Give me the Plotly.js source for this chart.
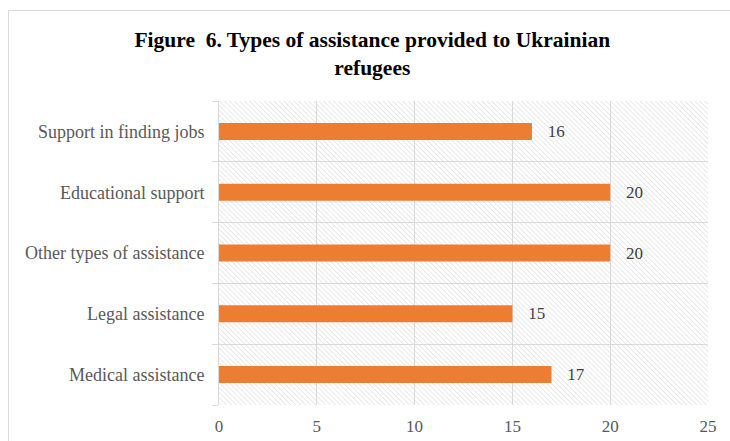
<!DOCTYPE html>
<html>
<head>
<meta charset="utf-8">
<script src="https://cdn.plot.ly/plotly-3.0.1.min.js"></script>
<style>
  html, body { margin: 0; padding: 0; background: #fff; }
  #wrap { position: relative; width: 730px; height: 441px; overflow: hidden; }
  #frame { position: absolute; left: 8px; top: 10px; width: 760px; height: 460px; border: 1px solid #d9d9d9; box-sizing: border-box; }
  #chart { position: absolute; left: 0; top: 0; width: 730px; height: 441px; }
</style>
</head>
<body>
<div id="wrap">
  <div id="frame"></div>
  <div id="chart"></div>
</div>
<script>
const categories = ["Medical assistance", "Legal assistance", "Other types of assistance", "Educational support", "Support in finding jobs"];
const values = [17, 15, 20, 20, 16];
const xTicks = [0, 5, 10, 15, 20, 25];

const W = 730, H = 441;
const margin = { l: 219, r: 22, t: 101, b: 36, pad: 0 };
const pw = W - margin.l - margin.r, ph = H - margin.t - margin.b;

const hatchSvg = '<svg xmlns="http://www.w3.org/2000/svg" width="' + pw + '" height="' + ph + '">' +
  '<defs><pattern id="p" width="3.5" height="3.5" patternUnits="userSpaceOnUse" patternTransform="rotate(-45)">' +
  '<rect width="3.5" height="3.5" fill="#ffffff"/><line x1="0" y1="0" x2="0" y2="3.5" stroke="#dadada" stroke-width="1.2"/></pattern></defs>' +
  '<rect width="100%" height="100%" fill="url(#p)"/></svg>';
const hatchUrl = 'data:image/svg+xml;base64,' + btoa(hatchSvg);

const serif = '"Liberation Serif", "Times New Roman", serif';

const trace = {
  type: 'bar',
  orientation: 'h',
  y: categories,
  x: values,
  marker: { color: '#ED7D31' },
  text: values.map(v => '   ' + v),
  textposition: 'outside',
  constraintext: 'none',
  cliponaxis: false,
  textfont: { family: serif, size: 17, color: '#404040' },
  hoverinfo: 'none'
};

const layout = {
  width: W, height: H,
  margin: margin,
  paper_bgcolor: 'rgba(0,0,0,0)',
  plot_bgcolor: 'rgba(0,0,0,0)',
  showlegend: false,
  bargap: 0.72,
  title: {
    text: '<b>Figure  6. Types of assistance provided to Ukrainian<br>refugees</b>',
    font: { family: serif, size: 21.5, color: '#000000' },
    x: 0.51, xanchor: 'center',
    y: 0.893, yanchor: 'middle'
  },
  xaxis: {
    range: [0, 25],
    tickvals: xTicks,
    ticktext: xTicks.map(String),
    showgrid: true, gridcolor: '#d9d9d9', gridwidth: 1,
    zeroline: false, showline: false,
    ticks: '',
    tickfont: { family: serif, size: 17, color: '#595959' },
    ticklabelstandoff: 9,
    fixedrange: true
  },
  yaxis: {
    type: 'category',
    categoryorder: 'array',
    categoryarray: categories,
    showgrid: true, gridcolor: '#d9d9d9', gridwidth: 1,
    tickson: 'boundaries',
    ticks: 'outside', ticklen: 6, tickcolor: '#d9d9d9', tickwidth: 1,
    showline: true, linecolor: '#d9d9d9', linewidth: 1,
    tickfont: { family: serif, size: 18, color: '#595959' },
    ticklabelstandoff: 10,
    fixedrange: true
  },
  images: [{
    source: hatchUrl,
    xref: 'paper', yref: 'paper',
    x: 0, y: 1, sizex: 1, sizey: 1,
    xanchor: 'left', yanchor: 'top',
    sizing: 'stretch',
    layer: 'below'
  }]
};

Plotly.newPlot('chart', [trace], layout, { displayModeBar: false, staticPlot: true });
</script>
</body>
</html>
